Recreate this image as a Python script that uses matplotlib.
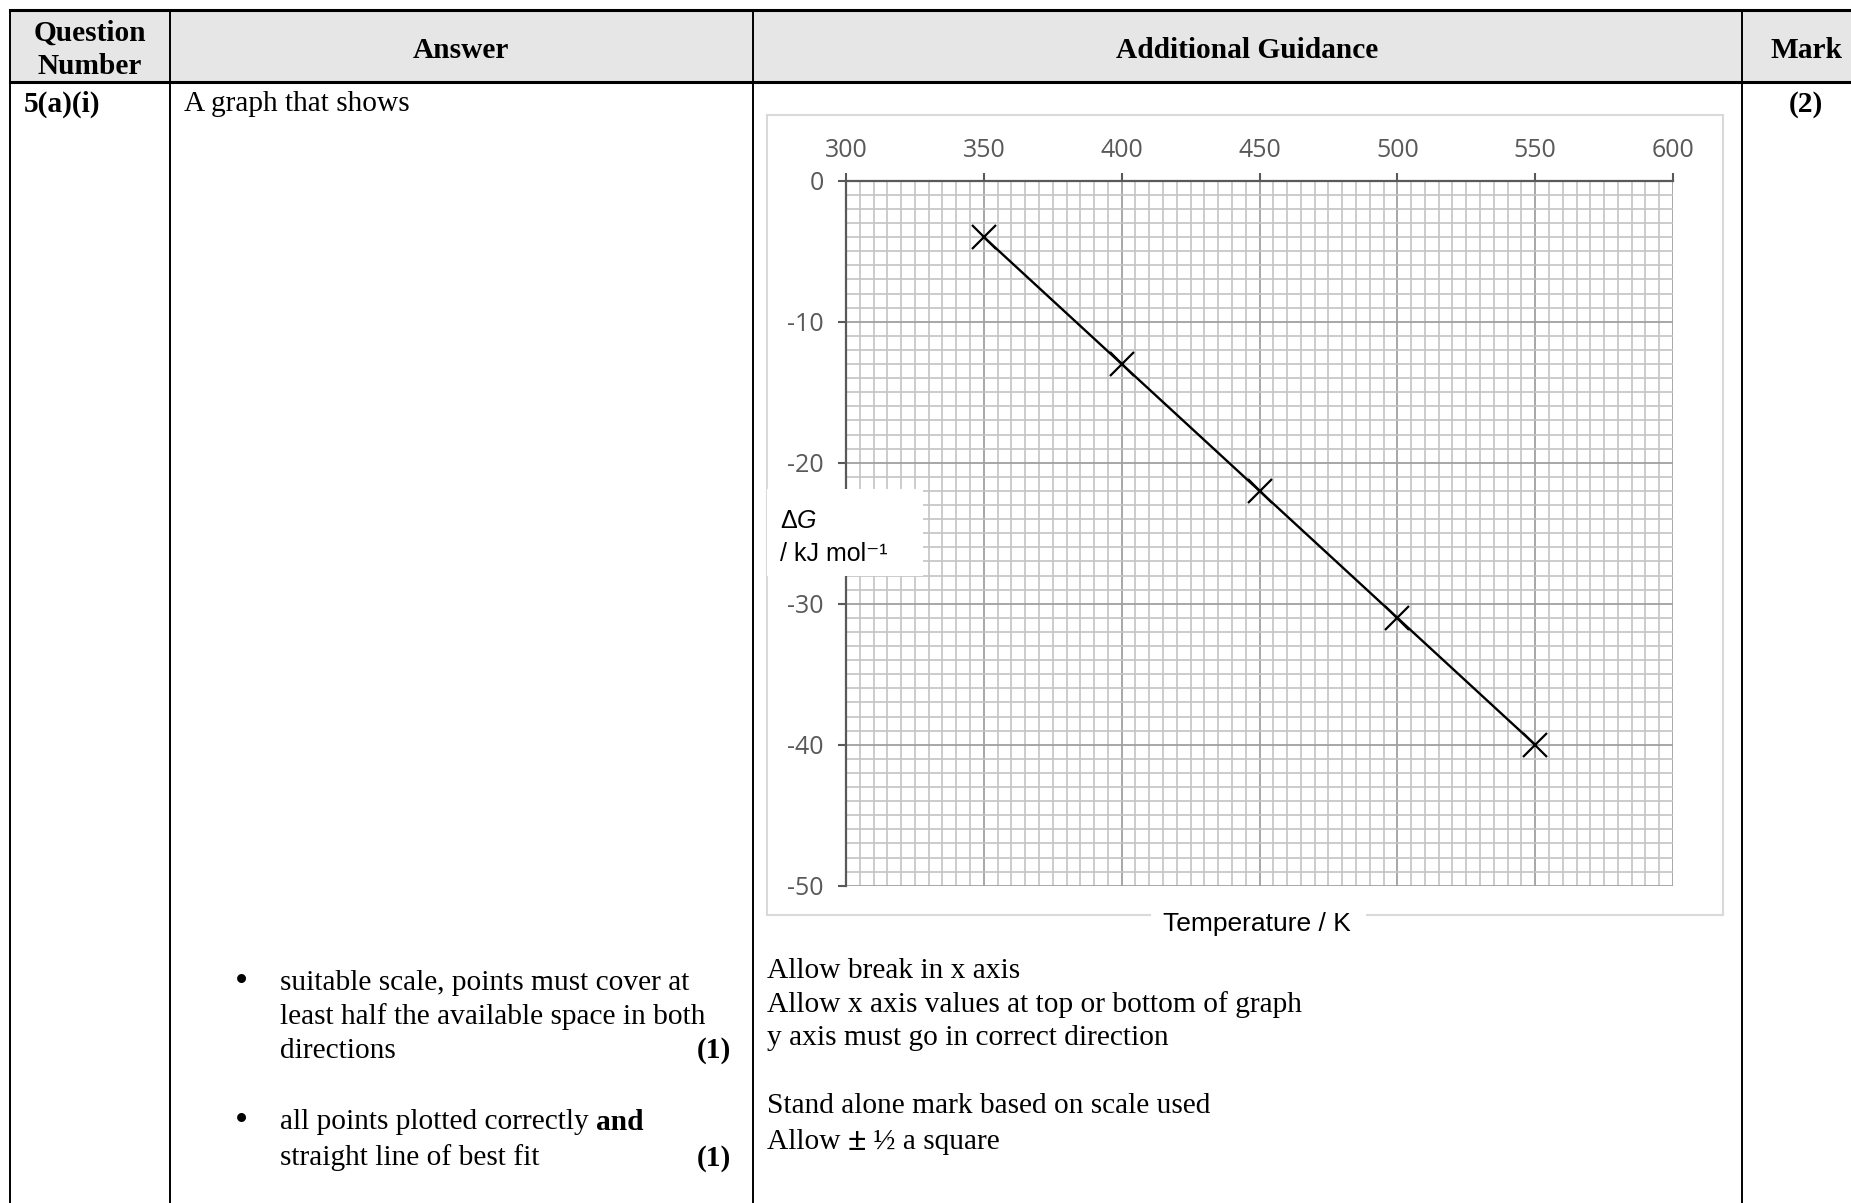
import matplotlib as mpl
import matplotlib.pyplot as plt
from matplotlib.patches import Rectangle
from matplotlib.ticker import MultipleLocator

mpl.rcParams['axes.unicode_minus'] = False

# data
temperature = [350, 400, 450, 500, 550]
delta_g = [-4, -13, -22, -31, -40]
x_ticks = [300, 350, 400, 450, 500, 550, 600]
y_ticks = [0, -10, -20, -30, -40, -50]

W, H = 1851, 1203
fig = plt.figure(figsize=(W / 100, H / 100), dpi=100)

# background axes in pixel coords for the table
bg = fig.add_axes([0, 0, 1, 1])
bg.set_xlim(0, W)
bg.set_ylim(H, 0)
bg.axis('off')

serif = 'Liberation Serif'
fs = 21.2
dy = 3  # small nudge for centre alignment

bg.add_patch(Rectangle((10, 10), W - 10, 72, facecolor='#e6e6e6', edgecolor='none'))
bg.plot([10, W], [10, 10], color='k', lw=2.2)
bg.plot([10, W], [82, 82], color='k', lw=2.2)
for x in [10, 170, 753, 1742]:
    bg.plot([x, x], [10, H], color='k', lw=1.4)

# headers
bg.text(90, 30 + dy, 'Question', ha='center', va='center', family=serif,
        weight='bold', fontsize=fs)
bg.text(90, 63 + dy, 'Number', ha='center', va='center', family=serif,
        weight='bold', fontsize=fs)
bg.text(461, 47 + dy, 'Answer', ha='center', va='center', family=serif, weight='bold', fontsize=fs)
bg.text(1247, 47 + dy, 'Additional Guidance', ha='center', va='center', family=serif,
        weight='bold', fontsize=fs)
bg.text(1806, 47 + dy, 'Mark', ha='center', va='center', family=serif, weight='bold', fontsize=fs)

bg.text(24, 101 + dy, '5(a)(i)', ha='left', va='center', family=serif, weight='bold', fontsize=fs)
bg.text(184, 101 + dy, 'A graph that shows', ha='left', va='center', family=serif, fontsize=fs)
bg.text(1806, 101 + dy, '(2)', ha='center', va='center', family=serif, weight='bold', fontsize=fs)

# answer bullets
bg.text(241, 980 + dy, '\u2022', ha='center', va='center', family=serif, fontsize=27)
for y, s in zip([980, 1014, 1048], ['suitable scale, points must cover at',
                                    'least half the available space in both',
                                    'directions']):
    bg.text(280, y + dy, s, ha='left', va='center', family=serif, fontsize=fs)
bg.text(731, 1048 + dy, '(1)', ha='right', va='center', family=serif, weight='bold', fontsize=fs)

bg.text(241, 1119 + dy, '\u2022', ha='center', va='center', family=serif, fontsize=27)
t1 = bg.text(280, 1119 + dy, 'all points plotted correctly ', ha='left', va='center',
             family=serif, fontsize=fs)
bg.annotate('and', xy=(1, 0.5), xycoords=t1, ha='left', va='center',
            family=serif, weight='bold', fontsize=fs)
bg.text(280, 1155 + dy, 'straight line of best fit', ha='left', va='center', family=serif,
        fontsize=fs)
bg.text(731, 1155 + dy, '(1)', ha='right', va='center', family=serif, weight='bold', fontsize=fs)

# guidance
guide = [(968, 'Allow break in x axis'),
         (1002, 'Allow x axis values at top or bottom of graph'),
         (1035, 'y axis must go in correct direction'),
         (1103, 'Stand alone mark based on scale used')]
for y, s in guide:
    bg.text(767, y + dy, s, ha='left', va='center', family=serif, fontsize=fs)
a1 = bg.text(767, 1139 + dy, 'Allow ', ha='left', va='center', family=serif, fontsize=fs)
a2 = bg.annotate('\u00b1', xy=(1, 0.5), xycoords=a1, ha='left', va='center',
                 family=serif, weight='bold', fontsize=fs + 3)
bg.annotate(' \u00bd a square', xy=(1, 0.5), xycoords=a2, ha='left', va='center',
            family=serif, fontsize=fs)

# chart frame
bg.add_patch(Rectangle((767, 115), 1723 - 767, 915 - 115, fill=False,
                       edgecolor='#d9d9d9', lw=1.5, zorder=2))
bg.add_patch(Rectangle((1151, 903), 215, 40, facecolor='white', edgecolor='none', zorder=3))
bg.text(1257, 924, 'Temperature / K', ha='center', va='center', fontsize=19,
        family=['Liberation Sans Narrow', 'Liberation Sans'], zorder=4)

# the graph itself
l, r, t, b = 846, 1673, 180.7, 885.7
ax = fig.add_axes([l / W, 1 - b / H, (r - l) / W, (b - t) / H])
ax.set_xlim(300, 600)
ax.set_ylim(-50, 0)
ax.xaxis.tick_top()
ax.set_xticks(x_ticks)
ax.set_yticks(y_ticks)
ax.xaxis.set_minor_locator(MultipleLocator(5))
ax.yaxis.set_minor_locator(MultipleLocator(1))
ax.grid(which='minor', color='#c4c4c4', lw=1.2)
ax.grid(which='major', color='#a0a0a0', lw=1.3)
ax.set_axisbelow(True)
for s in ['right', 'bottom']:
    ax.spines[s].set_visible(False)
for s in ['top', 'left']:
    ax.spines[s].set_color('#595959')
    ax.spines[s].set_linewidth(1.6)
ax.tick_params(which='major', length=6, width=1.5, color='#595959',
               labelsize=18, labelcolor='#595959', pad=7)
ax.tick_params(axis='y', which='major', pad=10)
ax.tick_params(which='minor', length=0)
for lab in ax.get_xticklabels() + ax.get_yticklabels():
    lab.set_family('Open Sans')

ax.plot(temperature, delta_g, color='k', lw=1.7, marker='x', markersize=17,
        markeredgewidth=1.6, clip_on=False)

# y label box over the axis
ax.add_patch(Rectangle((767, 489), 923 - 767, 576 - 489, transform=bg.transData,
                       facecolor='white', edgecolor='none', clip_on=False, zorder=5))
sans = ['Liberation Sans', 'DejaVu Sans']
d = ax.text(780, 521, '\u0394', transform=bg.transData, ha='left', va='center',
            fontsize=18, family=sans, zorder=6)
ax.annotate('G', xy=(1, 0.5), xycoords=d, ha='left', va='center', fontsize=18,
            family=sans, style='italic', zorder=6)
ax.text(780, 554, '/ kJ mol\u207b\u00b9', transform=bg.transData, ha='left', va='center',
        fontsize=18, family=sans, zorder=6)

fig.savefig('out.png', dpi=100)
